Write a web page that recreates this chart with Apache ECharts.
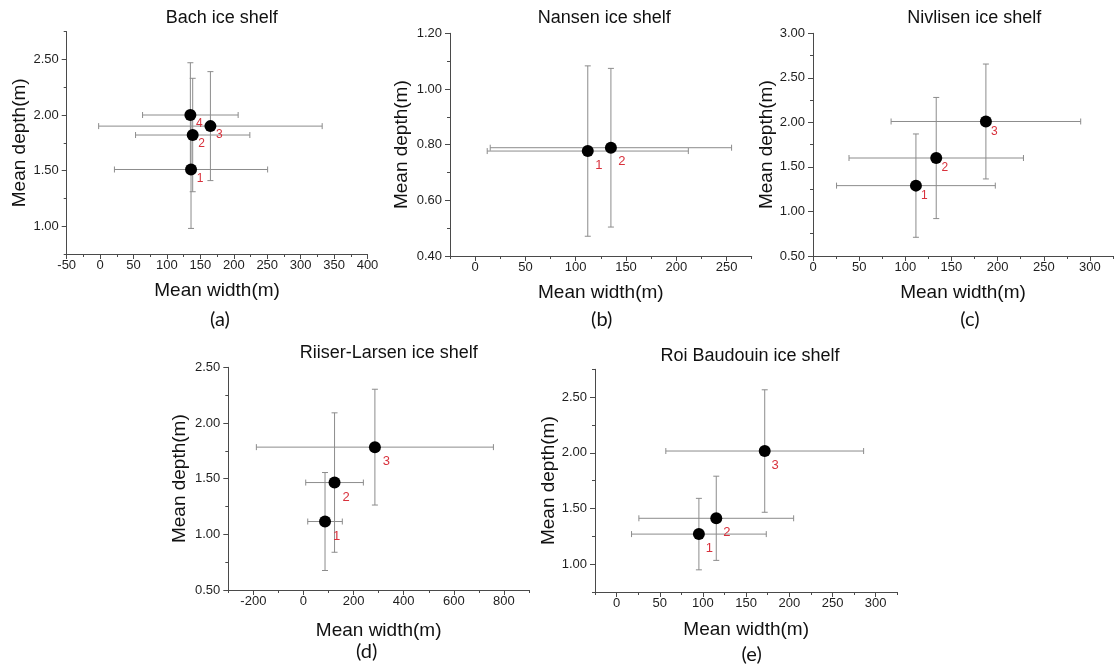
<!DOCTYPE html>
<html><head><meta charset="utf-8">
<script src="https://cdn.jsdelivr.net/npm/echarts@6/dist/echarts.min.js"></script>
<style>html,body{margin:0;padding:0;background:#fff}#c{width:1118px;height:670px}</style>
</head><body><div id="c"></div>
<script>
// ---------- text ----------
const panelTitles = ['Bach ice shelf', 'Nansen ice shelf', 'Nivlisen ice shelf', 'Riiser-Larsen ice shelf', 'Roi Baudouin ice shelf'];
const panelTags = ['(a)', '(b)', '(c)', '(d)', '(e)'];
const xAxisTitle = 'Mean width(m)';
const yAxisTitle = 'Mean depth(m)';

// ---------- data ----------
// (a) Bach
const bachWidth = [136, 138.5, 165, 135];
const bachWidthErr = [114.6, 85.5, 167.2, 71.5];
const bachDepth = [1.51, 1.82, 1.90, 2.00];
const bachDepthErr = [0.53, 0.51, 0.49, 0.47];
// (b) Nansen
const nansenWidth = [112, 135];
const nansenWidthErr = [100, 120];
const nansenDepth = [0.777, 0.789];
const nansenDepthErr = [0.306, 0.285];
// (c) Nivlisen
const nivlisenWidth = [111.5, 133.5, 187.3];
const nivlisenWidthErr = [86, 94.5, 102.7];
const nivlisenDepth = [1.29, 1.60, 2.01];
const nivlisenDepthErr = [0.58, 0.68, 0.645];
// (d) Riiser-Larsen
const riiserWidth = [86, 124, 285];
const riiserWidthErr = [69, 115, 473];
const riiserDepth = [1.115, 1.465, 1.783];
const riiserDepthErr = [0.44, 0.626, 0.52];
// (e) Roi Baudouin
const roiWidth = [95.3, 115.4, 171.5];
const roiWidthErr = [78, 89.6, 114.5];
const roiDepth = [1.27, 1.412, 2.016];
const roiDepthErr = [0.321, 0.378, 0.55];

// ---------- axes: ranges and tick labels ----------
const bachXRange = [-50, 400];
const bachXTicks = [-50, 0, 50, 100, 150, 200, 250, 300, 350, 400];
const bachXMinor = [-25, 25, 75, 125, 175, 225, 275, 325, 375];
const bachYRange = [0.75, 2.75];
const bachYTicks = [1.00, 1.50, 2.00, 2.50];
const bachYMinor = [0.75, 1.25, 1.75, 2.25, 2.75];

const nansenXRange = [-25, 275];
const nansenXTicks = [0, 50, 100, 150, 200, 250];
const nansenXMinor = [-25, 25, 75, 125, 175, 225, 275];
const nansenYRange = [0.40, 1.20];
const nansenYTicks = [0.40, 0.60, 0.80, 1.00, 1.20];
const nansenYMinor = [0.50, 0.70, 0.90, 1.10];

const nivlisenXRange = [0, 325];
const nivlisenXTicks = [0, 50, 100, 150, 200, 250, 300];
const nivlisenXMinor = [25, 75, 125, 175, 225, 275, 325];
const nivlisenYRange = [0.50, 3.00];
const nivlisenYTicks = [0.50, 1.00, 1.50, 2.00, 2.50, 3.00];
const nivlisenYMinor = [0.75, 1.25, 1.75, 2.25, 2.75];

const riiserXRange = [-300, 900];
const riiserXTicks = [-200, 0, 200, 400, 600, 800];
const riiserXMinor = [-300, -100, 100, 300, 500, 700, 900];
const riiserYRange = [0.50, 2.50];
const riiserYTicks = [0.50, 1.00, 1.50, 2.00, 2.50];
const riiserYMinor = [0.75, 1.25, 1.75, 2.25];

const roiXRange = [-25, 325];
const roiXTicks = [0, 50, 100, 150, 200, 250, 300];
const roiXMinor = [-25, 25, 75, 125, 175, 225, 275, 325];
const roiYRange = [0.75, 2.75];
const roiYTicks = [1.00, 1.50, 2.00, 2.50];
const roiYMinor = [0.75, 1.25, 1.75, 2.25, 2.75];

// ---------- assemble ----------
const panels = [
  {w: bachWidth, we: bachWidthErr, d: bachDepth, de: bachDepthErr, xr: bachXRange, xt: bachXTicks, xm: bachXMinor, yr: bachYRange, yt: bachYTicks, ym: bachYMinor},
  {w: nansenWidth, we: nansenWidthErr, d: nansenDepth, de: nansenDepthErr, xr: nansenXRange, xt: nansenXTicks, xm: nansenXMinor, yr: nansenYRange, yt: nansenYTicks, ym: nansenYMinor},
  {w: nivlisenWidth, we: nivlisenWidthErr, d: nivlisenDepth, de: nivlisenDepthErr, xr: nivlisenXRange, xt: nivlisenXTicks, xm: nivlisenXMinor, yr: nivlisenYRange, yt: nivlisenYTicks, ym: nivlisenYMinor},
  {w: riiserWidth, we: riiserWidthErr, d: riiserDepth, de: riiserDepthErr, xr: riiserXRange, xt: riiserXTicks, xm: riiserXMinor, yr: riiserYRange, yt: riiserYTicks, ym: riiserYMinor},
  {w: roiWidth, we: roiWidthErr, d: roiDepth, de: roiDepthErr, xr: roiXRange, xt: roiXTicks, xm: roiXMinor, yr: roiYRange, yt: roiYTicks, ym: roiYMinor}
];

// layout (pixels)
const layouts = [
  {left: 66.7, top: 31.6, width: 300.8, height: 222.4, yGap: 37, xGap: 27, tx: 221.7, ty: 18, gx: 220, gy: 320, lo: [9, 9], lf: 12},
  {left: 450, top: 33.3, width: 301.7, height: 222.7, yGap: 39, xGap: 27, tx: 604.3, ty: 18.3, gx: 601.7, gy: 320, lo: [11, 14], lf: 13},
  {left: 813, top: 33.3, width: 300, height: 222.7, yGap: 34, xGap: 27, tx: 974.3, ty: 18.3, gx: 970, gy: 320, lo: [8.5, 10], lf: 12},
  {left: 228.3, top: 367.3, width: 300.7, height: 222.7, yGap: 39, xGap: 31, tx: 388.7, ty: 352.7, gx: 366.7, gy: 651.7, lo: [11.5, 14.5], lf: 13},
  {left: 595, top: 369.3, width: 302.3, height: 222.7, yGap: 34, xGap: 28, tx: 750, ty: 356, gx: 751.7, gy: 655, lo: [10.5, 14.5], lf: 13}
];

const FONT = "'Liberation Sans', Arial, sans-serif";
const AXIS_COLOR = '#4a4a4a';
const LABEL_COLOR = '#1e1e1e';
const ERR_COLOR = '#8c8c8c';
const RED = '#d8313c';

function errRender(params, api) {
  const x = api.value(0), y = api.value(1), ex = api.value(2), ey = api.value(3);
  const l = api.coord([x - ex, y]), r = api.coord([x + ex, y]);
  const t = api.coord([x, y + ey]), b = api.coord([x, y - ey]);
  const cap = 3;
  const st = {stroke: ERR_COLOR, lineWidth: 1, fill: null};
  const ln = (x1, y1, x2, y2) => ({type: 'line', shape: {x1, y1, x2, y2}, style: st});
  return {type: 'group', children: [
    ln(l[0], l[1], r[0], r[1]),
    ln(l[0], l[1] - cap, l[0], l[1] + cap),
    ln(r[0], r[1] - cap, r[0], r[1] + cap),
    ln(t[0], t[1], b[0], b[1]),
    ln(t[0] - cap, t[1], t[0] + cap, t[1]),
    ln(b[0] - cap, b[1], b[0] + cap, b[1])
  ]};
}

const grid = [], xAxis = [], yAxis = [], series = [], graphic = [];
panels.forEach((p, i) => {
  const L = layouts[i];
  grid.push({left: L.left, top: L.top, width: L.width, height: L.height, containLabel: false, outerBoundsMode: 'none'});
  const mainX = {
    type: 'value', gridIndex: i, position: 'bottom', min: p.xr[0], max: p.xr[1],
    name: xAxisTitle, nameLocation: 'middle', nameGap: L.xGap,
    nameTextStyle: {fontFamily: FONT, fontSize: 19, color: '#111'},
    axisLine: {show: true, onZero: false, lineStyle: {color: AXIS_COLOR, width: 1}},
    axisTick: {show: true, length: 5, customValues: p.xt, lineStyle: {color: AXIS_COLOR}},
    axisLabel: {show: true, customValues: p.xt, margin: 5, fontFamily: FONT, fontSize: 13, color: LABEL_COLOR, formatter: v => String(v)},
    splitLine: {show: false}
  };
  const minorX = {
    type: 'value', gridIndex: i, position: 'bottom', min: p.xr[0], max: p.xr[1],
    axisLine: {show: false, onZero: false},
    axisTick: {show: true, length: 3, customValues: p.xm, lineStyle: {color: AXIS_COLOR}},
    axisLabel: {show: false}, splitLine: {show: false}
  };
  const mainY = {
    type: 'value', gridIndex: i, position: 'left', min: p.yr[0], max: p.yr[1],
    name: yAxisTitle, nameLocation: 'middle', nameGap: L.yGap,
    nameTextStyle: {fontFamily: FONT, fontSize: 19, color: '#111'},
    axisLine: {show: true, onZero: false, lineStyle: {color: AXIS_COLOR, width: 1}},
    axisTick: {show: true, length: 5, customValues: p.yt, lineStyle: {color: AXIS_COLOR}},
    axisLabel: {show: true, customValues: p.yt, margin: 8, fontFamily: FONT, fontSize: 13, color: LABEL_COLOR, formatter: v => Number(v).toFixed(2)},
    splitLine: {show: false}
  };
  const minorY = {
    type: 'value', gridIndex: i, position: 'left', offset: 0, min: p.yr[0], max: p.yr[1],
    axisLine: {show: false, onZero: false},
    axisTick: {show: true, length: 3, customValues: p.ym, lineStyle: {color: AXIS_COLOR}},
    axisLabel: {show: false}, splitLine: {show: false}
  };
  const xi = xAxis.length, yi = yAxis.length;
  xAxis.push(mainX, minorX);
  yAxis.push(mainY, minorY);

  const rows = p.w.map((w, k) => [w, p.d[k], p.we[k], p.de[k], k + 1]);
  series.push({
    type: 'custom', coordinateSystem: 'cartesian2d', xAxisIndex: xi, yAxisIndex: yi,
    renderItem: errRender, encode: {x: 0, y: 1}, data: rows, z: 2, silent: true, animation: false
  });
  series.push({
    type: 'scatter', xAxisIndex: xi, yAxisIndex: yi, symbol: 'circle', symbolSize: 12,
    itemStyle: {color: '#000', opacity: 1}, z: 3, animation: false,
    data: rows.map(r => [r[0], r[1], r[4]]),
    label: {show: true, position: 'inside', offset: L.lo, formatter: q => String(q.value[2]),
      color: RED, fontFamily: FONT, fontSize: L.lf}
  });

  graphic.push({type: 'text', x: L.tx, y: L.ty, style: {text: panelTitles[i], fill: '#111', font: '18px ' + FONT,
    align: 'center', verticalAlign: 'middle', textAlign: 'center', textVerticalAlign: 'middle'}});
  graphic.push({type: 'text', x: L.gx, y: L.gy, style: {text: panelTags[i], fill: '#111', font: '20px Lato, ' + FONT,
    align: 'center', verticalAlign: 'middle', textAlign: 'center', textVerticalAlign: 'middle'}});
});

const chart = echarts.init(document.getElementById('c'), null, {renderer: 'canvas'});
chart.setOption({backgroundColor: '#fff', animation: false, grid, xAxis, yAxis, series, graphic});
</script></body></html>
